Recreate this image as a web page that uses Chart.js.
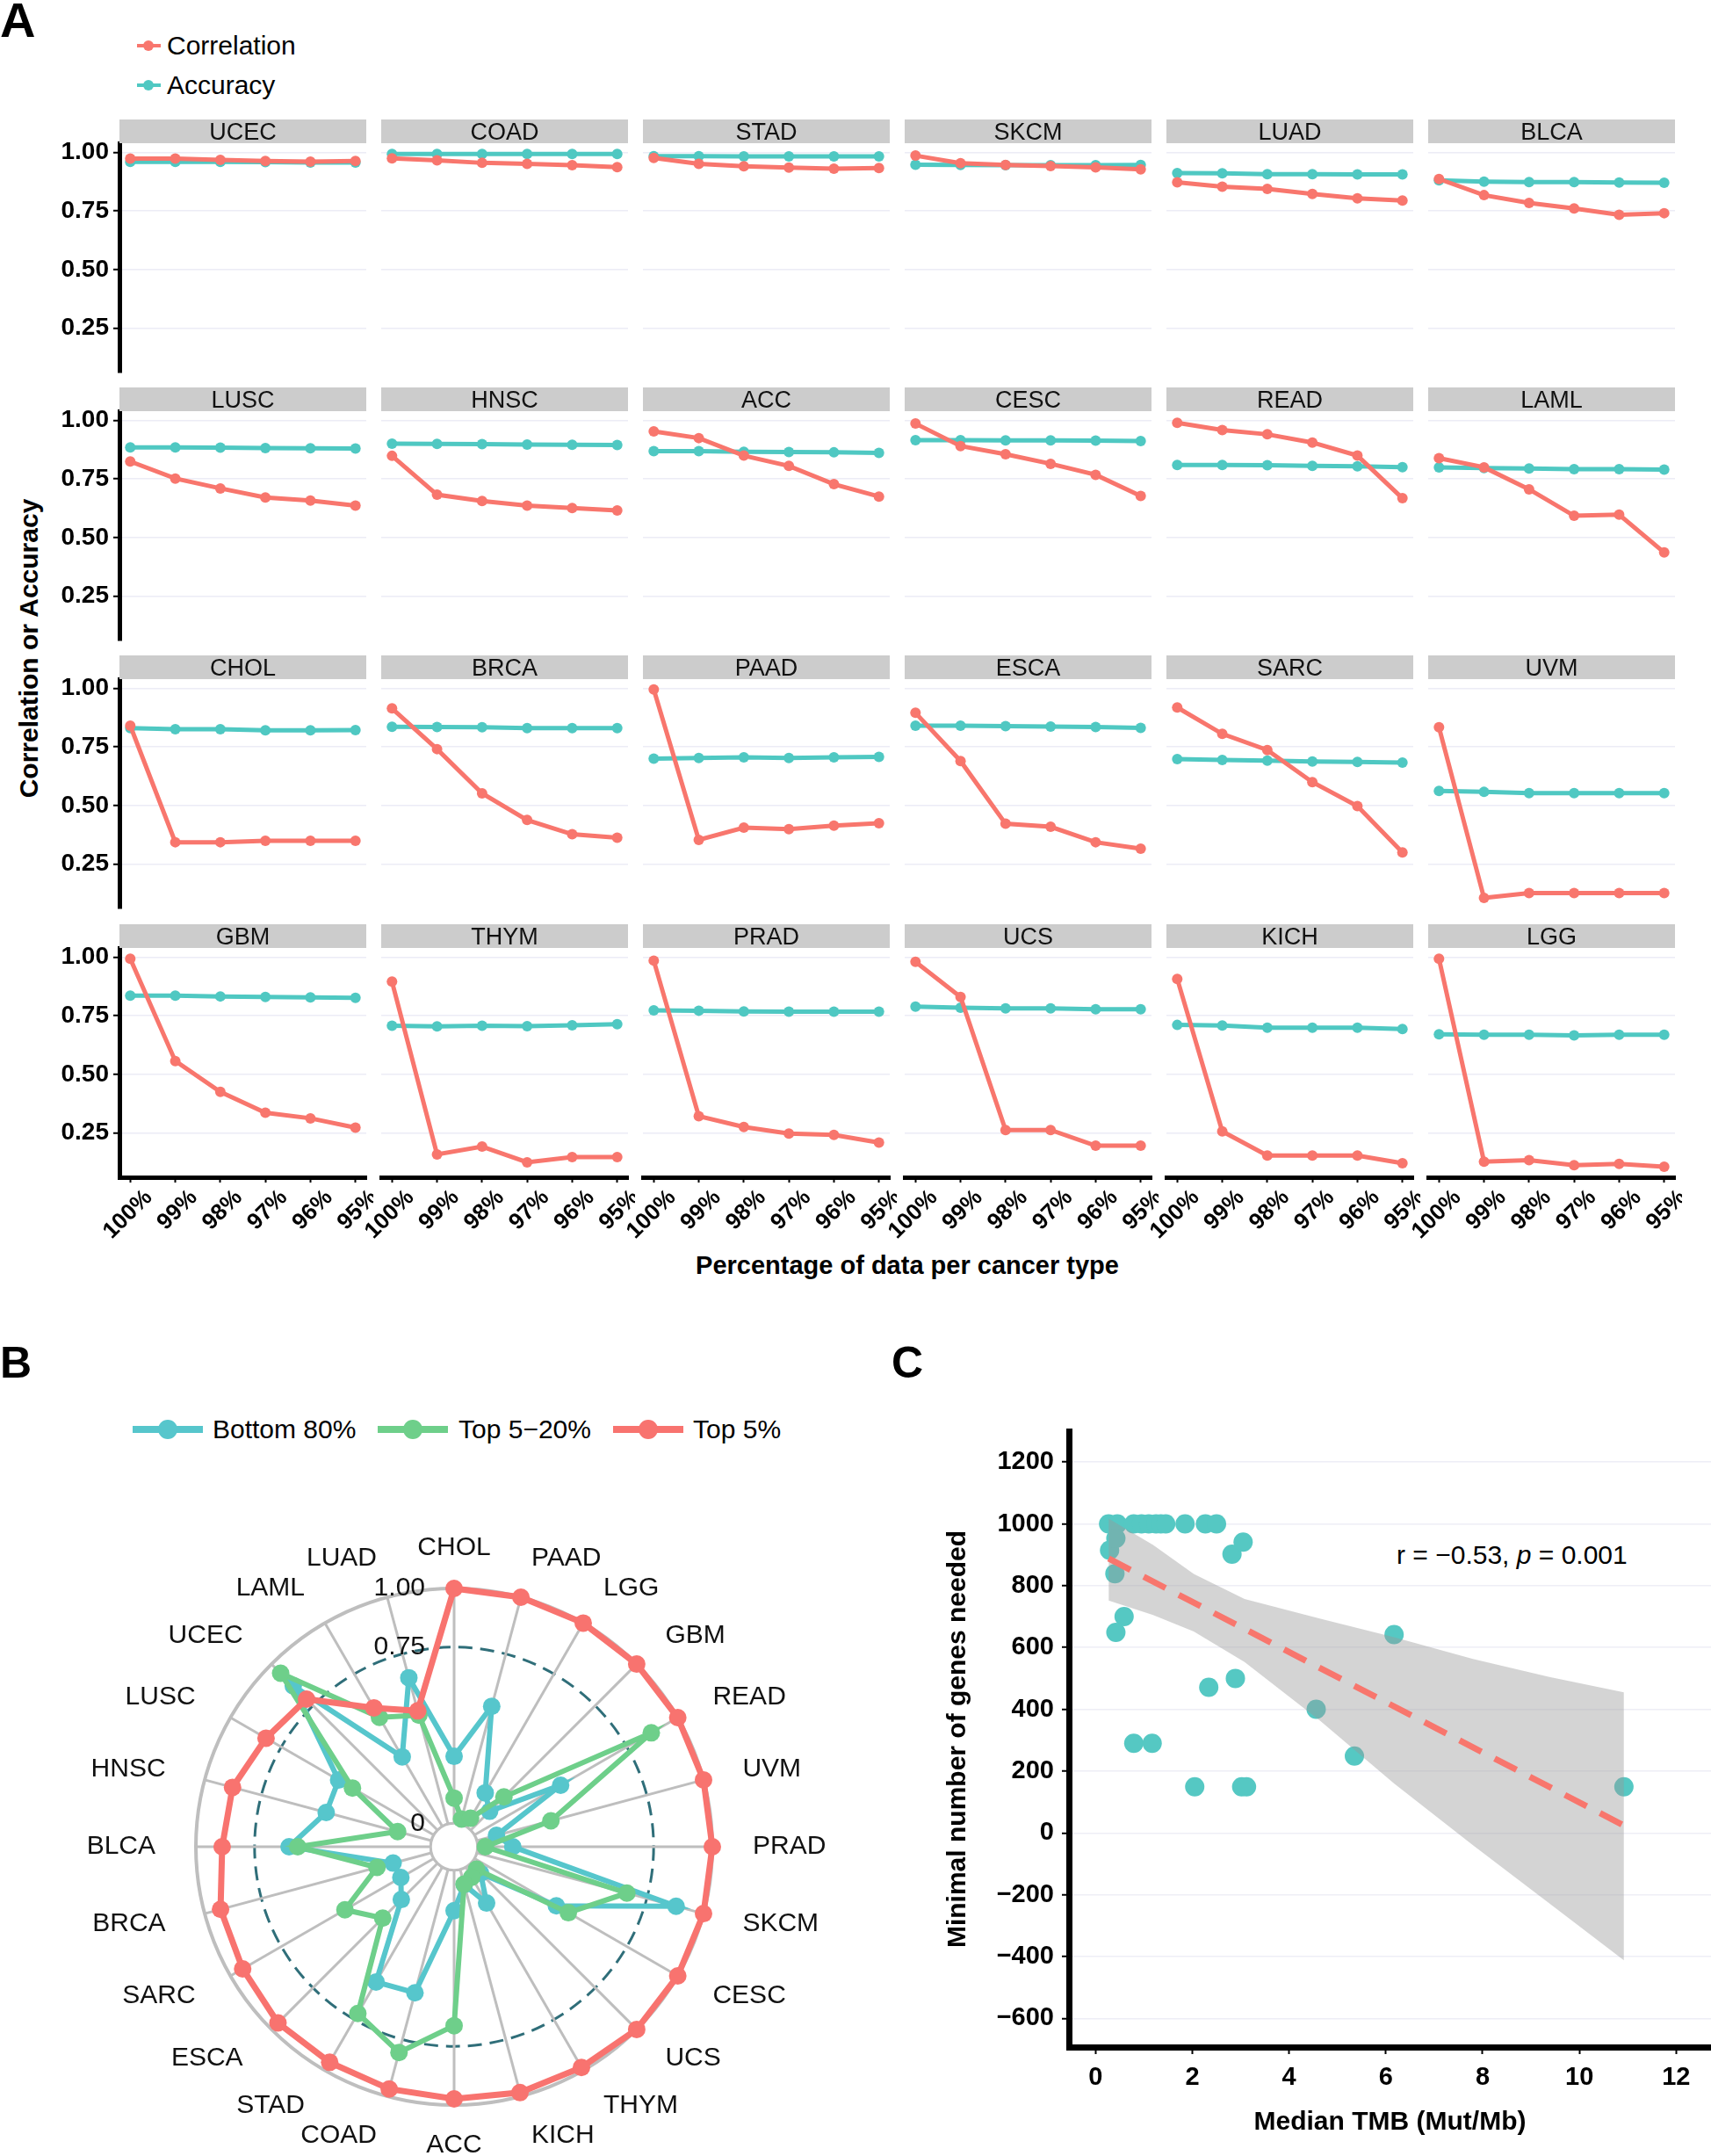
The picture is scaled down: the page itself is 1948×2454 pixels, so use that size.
<!DOCTYPE html>
<html><head><meta charset="utf-8">
<script src="https://cdn.jsdelivr.net/npm/chart.js"></script>
<style>
html,body{margin:0;padding:0;background:#fff;}
body{width:1948px;height:2454px;position:relative;overflow:hidden;font-family:'Liberation Sans',Arial,Helvetica,sans-serif;color:#000;}
canvas{position:absolute;}
.t{position:absolute;white-space:nowrap;}
.strip{position:absolute;background:#CCCCCC;text-align:center;font-size:27px;line-height:28px;height:27px;color:#111;}
.lg-line{position:absolute;}
.lg-dot{position:absolute;border-radius:50%;}
</style></head><body>
<script>
// ---------------- DATA ----------------
const pctLabels = ['100%','99%','98%','97%','96%','95%'];
const pctIndex = [0,1,2,3,4,5];
const facetOrder = ['UCEC','COAD','STAD','SKCM','LUAD','BLCA','LUSC','HNSC','ACC','CESC','READ','LAML','CHOL','BRCA','PAAD','ESCA','SARC','UVM','GBM','THYM','PRAD','UCS','KICH','LGG'];
const yTicksA = [0.25,0.50,0.75,1.00];

const corr_UCEC=[0.974,0.974,0.969,0.964,0.961,0.964]; const acc_UCEC=[0.960,0.960,0.960,0.959,0.957,0.957];
const corr_COAD=[0.975,0.967,0.956,0.952,0.946,0.938]; const acc_COAD=[0.994,0.994,0.994,0.994,0.994,0.994];
const corr_STAD=[0.977,0.952,0.941,0.936,0.931,0.934]; const acc_STAD=[0.985,0.985,0.984,0.984,0.984,0.984];
const corr_SKCM=[0.987,0.955,0.947,0.942,0.937,0.928]; const acc_SKCM=[0.948,0.947,0.946,0.946,0.946,0.947];
const corr_LUAD=[0.873,0.854,0.845,0.823,0.804,0.795]; const acc_LUAD=[0.912,0.911,0.908,0.908,0.907,0.907];
const corr_BLCA=[0.887,0.818,0.785,0.761,0.734,0.741]; const acc_BLCA=[0.881,0.876,0.874,0.874,0.872,0.871];
const corr_LUSC=[0.825,0.752,0.710,0.671,0.658,0.636]; const acc_LUSC=[0.885,0.885,0.884,0.882,0.881,0.880];
const corr_HNSC=[0.849,0.683,0.656,0.636,0.626,0.616]; const acc_HNSC=[0.901,0.900,0.899,0.897,0.896,0.895];
const corr_ACC =[0.954,0.925,0.850,0.806,0.728,0.675]; const acc_ACC =[0.869,0.869,0.866,0.865,0.864,0.862];
const corr_CESC=[0.987,0.891,0.856,0.815,0.768,0.678]; const acc_CESC=[0.916,0.916,0.915,0.915,0.914,0.912];
const corr_READ=[0.990,0.959,0.941,0.906,0.850,0.668]; const acc_READ=[0.810,0.810,0.809,0.806,0.804,0.801];
const corr_LAML=[0.839,0.800,0.706,0.593,0.598,0.436]; const acc_LAML=[0.800,0.797,0.795,0.792,0.792,0.790];
const corr_CHOL=[0.841,0.343,0.343,0.349,0.349,0.349]; const acc_CHOL=[0.831,0.826,0.826,0.821,0.821,0.822];
const corr_BRCA=[0.915,0.741,0.552,0.438,0.377,0.362]; const acc_BRCA=[0.836,0.835,0.834,0.831,0.831,0.831];
const corr_PAAD=[0.996,0.353,0.405,0.399,0.414,0.424]; const acc_PAAD=[0.700,0.703,0.706,0.703,0.706,0.708];
const corr_ESCA=[0.896,0.690,0.422,0.409,0.343,0.315]; const acc_ESCA=[0.841,0.841,0.839,0.837,0.835,0.832];
const corr_SARC=[0.919,0.806,0.737,0.600,0.497,0.299]; const acc_SARC=[0.698,0.695,0.692,0.688,0.686,0.683];
const corr_UVM =[0.834,0.105,0.126,0.126,0.126,0.126]; const acc_UVM =[0.562,0.558,0.553,0.553,0.553,0.553];
const corr_GBM =[0.994,0.557,0.425,0.336,0.312,0.272]; const acc_GBM =[0.836,0.836,0.833,0.831,0.829,0.827];
const corr_THYM=[0.896,0.158,0.191,0.124,0.146,0.146]; const acc_THYM=[0.708,0.705,0.708,0.706,0.710,0.714];
const corr_PRAD=[0.986,0.321,0.275,0.247,0.241,0.208]; const acc_PRAD=[0.773,0.772,0.769,0.768,0.768,0.768];
const corr_UCS =[0.981,0.831,0.262,0.262,0.195,0.195]; const acc_UCS =[0.789,0.785,0.782,0.782,0.778,0.778];
const corr_KICH=[0.908,0.256,0.153,0.153,0.153,0.120]; const acc_KICH=[0.711,0.709,0.699,0.699,0.699,0.694];
const corr_LGG =[0.994,0.127,0.133,0.112,0.117,0.105]; const acc_LGG =[0.671,0.669,0.669,0.666,0.669,0.669];

const radarLabels = ['CHOL','PAAD','LGG','GBM','READ','UVM','PRAD','SKCM','CESC','UCS','THYM','KICH','ACC','COAD','STAD','ESCA','SARC','BRCA','BLCA','HNSC','LUSC','UCEC','LAML','LUAD'];
const radarTicks = [0, 0.75, 1.00];
const bottom80 = [0.285,0.519,0.165,0.114,0.424,0.087,0.150,0.879,0.403,0.060,0.177,0.067,0.172,0.544,0.565,0.218,0.162,0.169,0.603,0.464,0.468,0.869,0.342,0.645];
const top5to20 = [0.107,0.022,0.040,0.200,0.870,0.327,0.033,0.662,0.462,0.035,0.050,0.065,0.662,0.807,0.720,0.330,0.437,0.240,0.566,0.149,0.400,0.945,0.536,0.480];
const top5     = [1.000,1.000,1.000,1.000,1.000,1.000,1.000,1.000,1.000,1.000,0.985,0.984,0.974,0.968,0.960,0.961,0.940,0.930,0.888,0.877,0.825,0.789,0.583,0.499];

const tmbX   = [0.27,0.45,0.79,0.95,1.10,1.25,1.35,1.45,1.85,2.27,2.50,0.29,0.42,0.40,0.59,0.42,2.82,3.05,2.89,2.34,4.56,6.17,5.35,10.92,0.79,1.17,2.05,3.02,3.12];
const genesY = [1000,1000,1000,1000,1000,1000,1000,1000,1000,1000,1000,915,953,839,700,649,902,941,500,471,400,642,249,149,290,290,149,149,149];
const fitX = [0.27, 10.92];
const fitY = [888, 24];
const bandX     = [0.27,1.19,2.03,3.08,4.65,6.17,7.80,9.38,10.92];
const bandUpper = [1017,932,838,757,693,633,563,505,455];
const bandLower = [752,705,652,553,362,160,-40,-228,-412];
const xTicksC = [0,2,4,6,8,10,12];
const yTicksC = [-600,-400,-200,0,200,400,600,800,1000,1200];

// ---------------- STYLE ----------------
const RED = '#F8766D', TEAL = '#4FC8C2';
const R_TEAL = '#56C6CC', R_GREEN = '#6ECF8A', R_RED = '#F8736F';
const FONT = "'Liberation Sans', Arial, Helvetica, sans-serif";
Chart.defaults.font.family = FONT;
Chart.defaults.color = '#000';

const corrMap = {UCEC:corr_UCEC,COAD:corr_COAD,STAD:corr_STAD,SKCM:corr_SKCM,LUAD:corr_LUAD,BLCA:corr_BLCA,LUSC:corr_LUSC,HNSC:corr_HNSC,ACC:corr_ACC,CESC:corr_CESC,READ:corr_READ,LAML:corr_LAML,CHOL:corr_CHOL,BRCA:corr_BRCA,PAAD:corr_PAAD,ESCA:corr_ESCA,SARC:corr_SARC,UVM:corr_UVM,GBM:corr_GBM,THYM:corr_THYM,PRAD:corr_PRAD,UCS:corr_UCS,KICH:corr_KICH,LGG:corr_LGG};
const accMap = {UCEC:acc_UCEC,COAD:acc_COAD,STAD:acc_STAD,SKCM:acc_SKCM,LUAD:acc_LUAD,BLCA:acc_BLCA,LUSC:acc_LUSC,HNSC:acc_HNSC,ACC:acc_ACC,CESC:acc_CESC,READ:acc_READ,LAML:acc_LAML,CHOL:acc_CHOL,BRCA:acc_BRCA,PAAD:acc_PAAD,ESCA:acc_ESCA,SARC:acc_SARC,UVM:acc_UVM,GBM:acc_GBM,THYM:acc_THYM,PRAD:acc_PRAD,UCS:acc_UCS,KICH:acc_KICH,LGG:acc_LGG};

function addText(txt, css, html){
  const d = document.createElement('div'); d.className='t';
  if (html) d.innerHTML = txt; else d.textContent = txt;
  Object.assign(d.style, css); document.body.appendChild(d); return d;
}
function addBox(cls, css){ const d=document.createElement('div'); d.className=cls; Object.assign(d.style, css); document.body.appendChild(d); return d; }
function makeCanvas(l,t,w,h){
  const cv=document.createElement('canvas'); cv.width=w; cv.height=h;
  cv.style.left=l+'px'; cv.style.top=t+'px'; cv.style.width=w+'px'; cv.style.height=h+'px';
  document.body.appendChild(cv); return cv;
}
function noPad(s){ s.paddingTop=0; s.paddingBottom=0; s.paddingLeft=0; s.paddingRight=0; }

// ---------------- PANEL A ----------------
addText('A',{left:'0px',top:'-5px',fontSize:'56px',lineHeight:'56px',fontWeight:'bold'});
[[RED,'Correlation',52],[TEAL,'Accuracy',97]].forEach(([col,txt,cy])=>{
  addBox('lg-line',{left:'156px',top:(cy-2)+'px',width:'27px',height:'4px',background:col});
  addBox('lg-dot',{left:(169-6)+'px',top:(cy-6)+'px',width:'12px',height:'12px',background:col});
  addText(txt,{left:'190px',top:(cy-18)+'px',fontSize:'30px',lineHeight:'36px'});
});
addText('Correlation or Accuracy',{left:'33px',top:'738px',fontSize:'30px',lineHeight:'30px',fontWeight:'bold',transform:'translate(-50%,-50%) rotate(-90deg)'});
addText('Percentage of data per cancer type',{left:'1033px',top:'1440px',fontSize:'29px',lineHeight:'30px',fontWeight:'bold',transform:'translate(-50%,-50%)'});

const colLeft = [136,434,732,1030,1328,1626];
const PW = 281, PH = 261;
function plotTop(r){ return Math.round(163 + 305.2*r); }

facetOrder.forEach((name, i)=>{
  const r = Math.floor(i/6), c = i%6;
  const yW = c===0 ? 96 : 0;
  const padL = c===0 ? 0 : (r===3 ? 44 : 8);
  const padR = 8, padT = 10, padB = r===3 ? 0 : 10;
  const xH = r===3 ? 110 : 0;
  const w = padL + yW + PW + padR, h = padT + PH + padB + xH;
  const cv = makeCanvas(colLeft[c]-yW-padL, plotTop(r)-padT, w, h);
  const s = addBox('strip',{left:colLeft[c]+'px',top:(plotTop(r)-27)+'px',width:PW+'px'});
  s.textContent = name;
  const corr = corrMap[name], acc = accMap[name];
  new Chart(cv, {
    type:'line',
    data:{datasets:[
      {label:'Correlation', data:pctIndex.map(k=>({x:k,y:corr[k]})), borderColor:RED, backgroundColor:RED, pointBackgroundColor:RED, pointBorderColor:RED, pointBorderWidth:0, pointRadius:6, borderWidth:5, order:1, clip:false, tension:0},
      {label:'Accuracy', data:pctIndex.map(k=>({x:k,y:acc[k]})), borderColor:TEAL, backgroundColor:TEAL, pointBackgroundColor:TEAL, pointBorderColor:TEAL, pointBorderWidth:0, pointRadius:6, borderWidth:5, order:2, clip:false, tension:0}
    ]},
    options:{
      responsive:false, animation:false, devicePixelRatio:1,
      layout:{padding:{left:padL,right:padR,top:padT,bottom:padB}, autoPadding:false},
      plugins:{legend:{display:false},tooltip:{enabled:false}},
      scales:{
        x:{type:'linear', min:-0.24, max:5.24, display:r===3,
           afterBuildTicks:s=>{s.ticks=pctIndex.map(v=>({value:v}));},
           afterFit:s=>{s.height=xH; noPad(s);},
           ticks:{callback:v=>pctLabels[v], minRotation:45, maxRotation:45, autoSkip:false, font:{size:26,weight:'bold'}, color:'#000', padding:2, labelOffset:21},
           grid:{drawOnChartArea:false, drawTicks:true, tickLength:6, tickWidth:2, tickColor:'#000', color:'#000'},
           border:{display:true,color:'#000',width:5}},
        y:{type:'linear', min:0.06, max:1.04,
           afterBuildTicks:s=>{s.ticks=yTicksA.map(v=>({value:v}));},
           afterFit:s=>{s.width=yW; noPad(s);},
           ticks:{display:c===0, callback:v=>Number(v).toFixed(2), font:{size:28,weight:'bold'}, color:'#000', padding:5},
           grid:{color:'#ECECF6', lineWidth:1.5, drawTicks:c===0, tickLength:7, tickWidth:2, tickColor:'#000'},
           border:{display:c===0,color:'#000',width:5}}
      }
    }
  });
});

// ---------------- PANEL B ----------------
addText('B',{left:'0px',top:'1526px',fontSize:'50px',lineHeight:'50px',fontWeight:'bold'});
[[R_TEAL,'Bottom 80%',151,242],[R_GREEN,'Top 5\u221220%',430,522],[R_RED,'Top 5%',698,789]].forEach(([col,txt,lx,tx])=>{
  addBox('lg-line',{left:lx+'px',top:(1627-4)+'px',width:'80px',height:'8px',background:col});
  addBox('lg-dot',{left:(lx+40-11)+'px',top:(1627-11)+'px',width:'22px',height:'22px',background:col});
  addText(txt,{left:tx+'px',top:(1627-18)+'px',fontSize:'30px',lineHeight:'36px'});
});

const radarDecor = {
  id:'radarDecor',
  beforeDatasetsDraw(chart){
    const s=chart.scales.r, ctx=chart.ctx;
    const r0=s.getDistanceFromCenterForValue(0);
    ctx.save(); ctx.beginPath(); ctx.arc(s.xCenter,s.yCenter,r0,0,Math.PI*2);
    ctx.fillStyle='#fff'; ctx.fill(); ctx.lineWidth=3; ctx.strokeStyle='#BEBEBE'; ctx.stroke(); ctx.restore();
  },
  afterDatasetsDraw(chart){
    const s=chart.scales.r, ctx=chart.ctx;
    ctx.save();
    ctx.font='30px '+FONT; ctx.fillStyle='#111'; ctx.textBaseline='middle';
    chart.data.labels.forEach((lab,i)=>{
      const a=s.getIndexAngle(i);
      const p=s.getPointPosition(i, s.drawingArea+46);
      const sn=Math.sin(a);
      ctx.textAlign = sn>0.05 ? 'left' : (sn<-0.05 ? 'right' : 'center');
      ctx.fillText(lab, p.x, p.y);
    });
    ctx.textAlign='right';
    radarTicks.forEach(v=>{
      const d=s.getDistanceFromCenterForValue(v);
      ctx.fillText(v===0?'0':v.toFixed(2), s.xCenter-33, s.yCenter-d);
    });
    ctx.restore();
  }
};
const cvB = makeCanvas(0,1700,1000,754);
new Chart(cvB,{
  type:'radar',
  data:{labels:radarLabels, datasets:[
    {label:'Bottom 80%', data:bottom80, borderColor:R_TEAL, backgroundColor:R_TEAL, pointBackgroundColor:R_TEAL, pointBorderColor:R_TEAL, pointBorderWidth:0, borderWidth:6, pointRadius:10, fill:false, order:3},
    {label:'Top 5\u221220%', data:top5to20, borderColor:R_GREEN, backgroundColor:R_GREEN, pointBackgroundColor:R_GREEN, pointBorderColor:R_GREEN, pointBorderWidth:0, borderWidth:6, pointRadius:10, fill:false, order:2},
    {label:'Top 5%', data:top5, borderColor:R_RED, backgroundColor:R_RED, pointBackgroundColor:R_RED, pointBorderColor:R_RED, pointBorderWidth:0, borderWidth:7, pointRadius:10, fill:false, order:1}
  ]},
  options:{
    responsive:false, animation:false, devicePixelRatio:1,
    layout:{padding:{left:223,top:108,right:189,bottom:58}, autoPadding:false},
    elements:{line:{tension:0}},
    plugins:{legend:{display:false},tooltip:{enabled:false}},
    scales:{r:{
      min:-0.1, max:1,
      afterBuildTicks:s=>{s.ticks=radarTicks.map(v=>({value:v}));},
      ticks:{display:false},
      pointLabels:{display:false},
      angleLines:{display:true,color:'#BEBEBE',lineWidth:3},
      grid:{circular:true,
        color:ctx=>(ctx.tick&&ctx.tick.value===0.75)?'#2F6E79':'#BEBEBE',
        lineWidth:ctx=>(ctx.tick&&ctx.tick.value===1)?4:3},
      border:{dash:ctx=>(ctx.tick&&ctx.tick.value===0.75)?[16,9]:[]}
    }}
  },
  plugins:[radarDecor]
});

// ---------------- PANEL C ----------------
addText('C',{left:'1015px',top:'1526px',fontSize:'50px',lineHeight:'50px',fontWeight:'bold'});
addText('r = \u22120.53, <i>p</i> = 0.001',{left:'1590px',top:'1752px',fontSize:'30px',lineHeight:'36px'},true);

const cvC = makeCanvas(1060,1600,888,854);
new Chart(cvC,{
  type:'scatter',
  data:{datasets:[
    {label:'points', data:tmbX.map((x,k)=>({x:x,y:genesY[k]})), backgroundColor:'#55C8C3', borderColor:'#55C8C3', pointRadius:11, pointBorderWidth:0, order:3, clip:false},
    {label:'upper', data:bandX.map((x,k)=>({x:x,y:bandUpper[k]})), showLine:true, borderWidth:0, borderColor:'rgba(0,0,0,0)', pointRadius:0, fill:'+1', backgroundColor:'rgba(153,153,153,0.42)', order:2, tension:0},
    {label:'lower', data:bandX.map((x,k)=>({x:x,y:bandLower[k]})), showLine:true, borderWidth:0, borderColor:'rgba(0,0,0,0)', pointRadius:0, fill:false, order:2, tension:0},
    {label:'fit', data:fitX.map((x,k)=>({x:x,y:fitY[k]})), showLine:true, borderColor:'#F8766D', borderWidth:7, borderDash:[28,17], pointRadius:0, fill:false, order:1}
  ]},
  options:{
    responsive:false, animation:false, devicePixelRatio:1,
    layout:{padding:{left:0,top:29,right:0,bottom:0}, autoPadding:false},
    plugins:{legend:{display:false},tooltip:{enabled:false}},
    scales:{
      x:{type:'linear', min:-0.55, max:12.72,
         afterBuildTicks:s=>{s.ticks=xTicksC.map(v=>({value:v}));},
         afterFit:s=>{s.height=124; noPad(s);},
         ticks:{font:{size:29,weight:'bold'},color:'#000',padding:10,maxRotation:0},
         grid:{drawOnChartArea:false,tickLength:8,tickWidth:2,tickColor:'#000',color:'#000'},
         border:{display:true,color:'#000',width:7},
         title:{display:true,text:'Median TMB (Mut/Mb)',font:{size:30,weight:'bold'},color:'#000',padding:{top:0,bottom:20}}},
      y:{type:'linear', min:-693, max:1300,
         afterBuildTicks:s=>{s.ticks=yTicksC.map(v=>({value:v}));},
         afterFit:s=>{s.width=157; noPad(s);},
         ticks:{font:{size:29,weight:'bold'},color:'#000',padding:9,callback:v=>String(v).replace('-','\u2212')},
         grid:{color:'#EEEEF6',lineWidth:1.5,tickLength:8,tickWidth:2,tickColor:'#000'},
         border:{display:true,color:'#000',width:7},
         title:{display:true,text:'Minimal number of genes needed',font:{size:30,weight:'bold'},color:'#000',padding:{top:13,bottom:0}}}
    }
  }
});
</script>
</body></html>
